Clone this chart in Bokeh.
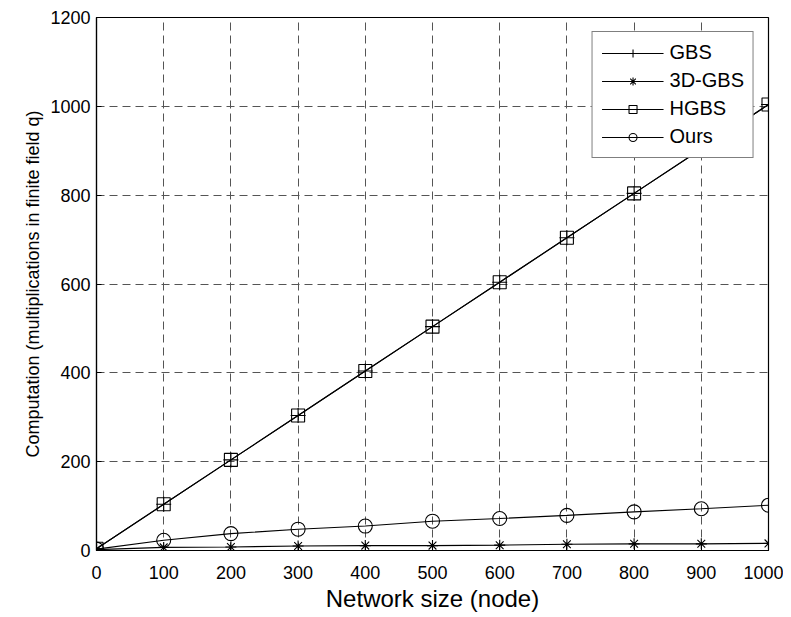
from bokeh.plotting import figure
from bokeh.models import Range1d, FixedTicker
from bokeh.embed import file_html
from bokeh.resources import INLINE

network_size = [0, 100, 200, 300, 400, 500, 600, 700, 800, 900, 1000]
gbs = [4, 104, 204, 304, 404, 504, 604, 704, 804, 904, 1004]
gbs3d = [2, 7, 8, 10, 11, 11, 12, 14, 15, 15, 16]
hgbs = [4, 104, 204, 304, 404, 504, 604, 704, 804, 904, 1004]
ours = [3, 23, 38, 48, 55, 66, 72, 79, 87, 94, 102]

x_ticks = [0, 100, 200, 300, 400, 500, 600, 700, 800, 900, 1000]
y_ticks = [0, 200, 400, 600, 800, 1000, 1200]

FONT = "Liberation Sans"

p = figure(width=783, height=614, output_backend="svg", toolbar_location=None,
           x_range=Range1d(0, 1000), y_range=Range1d(0, 1200),
           min_border_left=96, min_border_right=15, min_border_top=17, min_border_bottom=58)
p.background_fill_color = "white"
p.border_fill_color = "white"
p.outline_line_color = "black"
p.outline_line_width = 1.2

for ax in (p.xaxis[0], p.yaxis[0]):
    ax.major_tick_in = 5
    ax.major_tick_out = 0
    ax.minor_tick_in = 0
    ax.minor_tick_out = 0
    ax.axis_line_color = "black"
    ax.axis_line_width = 1.2
    ax.major_label_text_font = FONT
    ax.major_label_text_font_size = "18px"
    ax.major_label_text_color = "black"
    ax.axis_label_text_font = FONT
    ax.axis_label_text_font_style = "normal"
    ax.axis_label_text_color = "black"

p.xaxis[0].axis_label_text_font_size = "24px"
p.yaxis[0].axis_label_text_font_size = "18px"
p.xaxis[0].ticker = FixedTicker(ticks=x_ticks)
p.yaxis[0].ticker = FixedTicker(ticks=y_ticks)
p.xaxis[0].axis_label = "Network size (node)"
p.yaxis[0].axis_label = "Computation (multiplications in finite field q)"
p.xaxis[0].major_label_standoff = 15
p.yaxis[0].major_label_standoff = 6
p.xaxis[0].axis_label_standoff = 3
p.yaxis[0].axis_label_standoff = 4

p.xgrid.ticker = FixedTicker(ticks=x_ticks)
p.ygrid.ticker = FixedTicker(ticks=y_ticks)
for g in (p.xgrid[0], p.ygrid[0]):
    g.grid_line_color = "#555555"
    g.grid_line_dash = "8 5"
    g.grid_line_width = 1

series = [
    ("GBS", gbs, "cross", 15),
    ("3D-GBS", gbs3d, "asterisk", 11),
    ("HGBS", hgbs, "square", 13),
    ("Ours", ours, "circle", 14),
]
for name, ys, marker, size in series:
    p.line(network_size, ys, line_color="black", line_width=1.1, legend_label=name)
    p.scatter(network_size, ys, marker=marker, size=size, line_color="black",
              fill_color=None, line_width=1.1, legend_label=name)

lg = p.legend[0]
lg.location = "top_right"
lg.label_text_font = FONT
lg.label_text_font_size = "20px"
lg.label_text_color = "black"
lg.border_line_color = "black"
lg.border_line_width = 1
lg.background_fill_color = "white"
lg.background_fill_alpha = 1
lg.glyph_width = 62
lg.glyph_height = 20
lg.spacing = 5
lg.padding = 9
lg.margin = 14
lg.label_standoff = 6

open("out.html", "w").write(file_html(p, INLINE))
